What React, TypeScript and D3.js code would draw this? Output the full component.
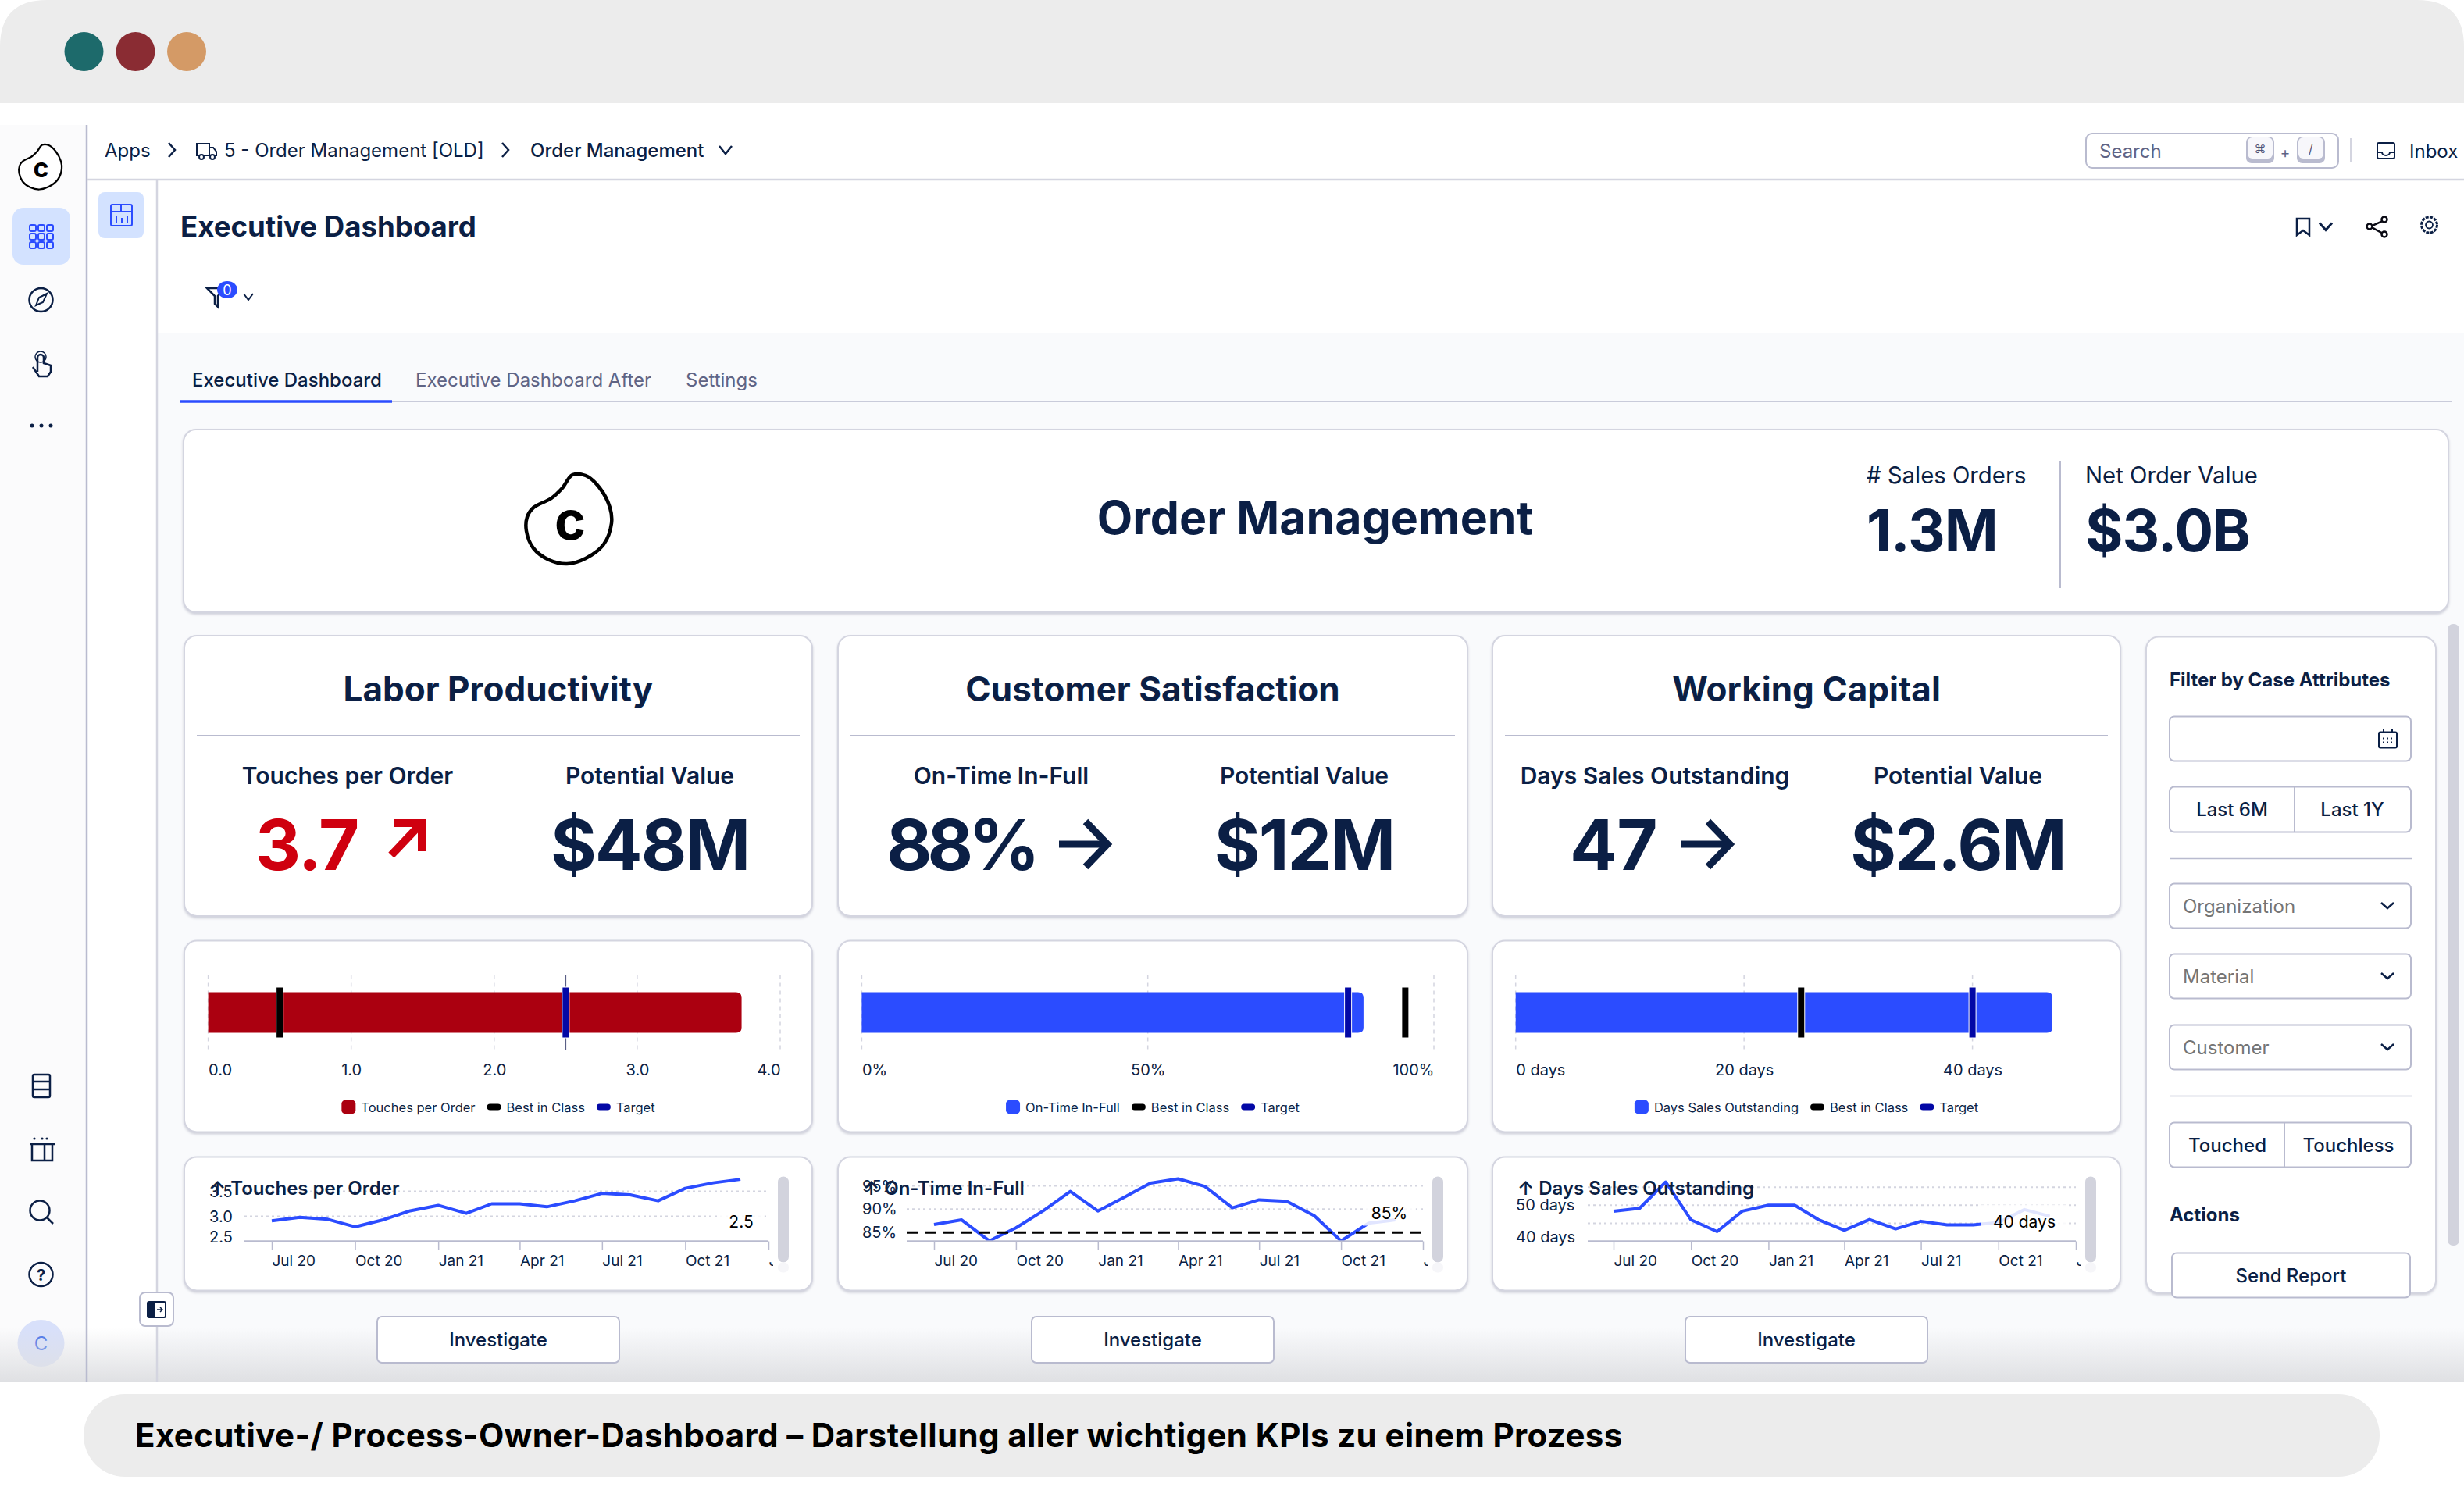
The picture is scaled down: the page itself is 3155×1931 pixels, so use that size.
import * as React from "react";
import * as d3 from "d3";

const months = [
  "2020-07", "2020-08", "2020-09", "2020-10", "2020-11", "2020-12",
  "2021-01", "2021-02", "2021-03", "2021-04", "2021-05", "2021-06",
  "2021-07", "2021-08", "2021-09", "2021-10", "2021-11", "2021-12"
];
const monthTicks = ["2020-07", "2020-10", "2021-01", "2021-04", "2021-07", "2021-10", "2022-01"];

const touchesTrend = [2.91, 2.98, 2.94, 2.79, 2.93, 3.11, 3.22, 3.06, 3.25, 3.25, 3.19, 3.31, 3.46, 3.43, 3.31, 3.56, 3.67, 3.74];
const onTimeTrend = [86.7, 87.7, 83.2, 86, 89.7, 93.8, 89.6, 92.7, 95.6, 96.5, 94.9, 90.3, 92, 91.7, 88.6, 83.2, 87, 87.7];
const daysTrend = [46.7, 48.3, 62.9, 41.9, 35.4, 46.7, 50, 50, 42.1, 36.1, 42.1, 36.9, 41.1, 39.1, 39.1, 40.4, 47.6, 43.9];

const kpiTitles = ["Labor Productivity", "Customer Satisfaction", "Working Capital"];
const kpiLabels = ["Touches per Order", "On-Time In-Full", "Days Sales Outstanding"];
const kpiValues = ["3.7", "88%", "47"];
const potentialValues = ["$48M", "$12M", "$2.6M"];

const bulletValues = [3.73, 87.7, 47];
const bestInClass = [0.5, 95, 25];
const targets = [2.5, 85, 40];
const bulletTicks = [[0, 1, 2, 3, 4], [0, 50, 100], [0, 20, 40]];

const navy = "#0b1f45";
const blue = "#2b4cff";
const red = "#ab0010";
const targetBlue = "#0308a6";
const line = "#b9bbcf";
const lineSoft = "#d4d5e0";
const font = "Inter, sans-serif";

const cards = [
  { x0: 236, x1: 1040 },
  { x0: 1073, x1: 1879 },
  { x0: 1911, x1: 2715 }
];

// outline of the company mark
const logoOutline: [number, number][] = [
  [4, -57], [21, -56], [39, -40], [52, -15], [54, 5], [44, 32], [21, 50], [-3, 57],
  [-26, 52], [-46, 37], [-55, 15], [-54, -3], [-46, -15], [-23, -27], [-9, -40]
];

const T = (p: any) => {
  const { x, y, size = 24, weight = 400, fill = navy, anchor = "start", children, ...rest } = p;
  return (
    <text x={x} y={y} fontSize={size} fontWeight={weight} fill={fill} textAnchor={anchor} dominantBaseline="central" fontFamily={font} {...rest}>
      {children}
    </text>
  );
};

const Chevron = ({ x, y, w = 8, h = 5, sw = 2.5, color = navy }: any) => (
  <polyline points={`${x - w},${y - h} ${x},${y + h} ${x + w},${y - h}`} fill="none" stroke={color} strokeWidth={sw} />
);

const ChevronRight = ({ x, y }: any) => (
  <polyline points={`${x - 4},${y - 9} ${x + 4},${y} ${x - 4},${y + 9}`} fill="none" stroke={navy} strokeWidth={2.5} />
);

const Card = ({ x0, x1, y0, y1, r = 16 }: any) => (
  <rect x={x0} y={y0 + 1} width={x1 - x0} height={y1 - y0} rx={r} fill="#fff" stroke={lineSoft} strokeWidth={2}
    style={{ filter: "drop-shadow(0 2px 1.5px #cfd0da)" }} />
);

const logoPath = d3.line().curve(d3.curveCatmullRomClosed)(logoOutline) as string;

const Logo = ({ x, y, k = 1 }: any) => (
  <g transform={`translate(${x},${y}) scale(${k})`}>
    <path d={logoPath} fill="#fff" stroke="#000" strokeWidth={4.5} />
    <text x={1} y={1} fontSize={68} fontWeight={700} fontFamily={font} fill="#000" stroke="none" textAnchor="middle" dominantBaseline="central">c</text>
  </g>
);

const Button = ({ x0, x1, y0, y1, label, fill = navy, left = false, weight = 500 }: any) => (
  <g>
    <rect x={x0} y={y0} width={x1 - x0} height={y1 - y0} rx={6} fill="#fff" stroke={line} strokeWidth={2} />
    {label && <T x={left ? x0 + 17 : (x0 + x1) / 2} y={(y0 + y1) / 2} anchor={left ? "start" : "middle"} fill={fill} weight={weight}>{label}</T>}
  </g>
);

const SplitButton = ({ y0, y1, split, labels, centers }: any) => (
  <g>
    <Button x0={2778} x1={3087} y0={y0} y1={y1} />
    <line x1={split} x2={split} y1={y0} y2={y1} stroke={line} strokeWidth={2} />
    {labels.map((d: string, i: number) => (
      <T key={d} x={centers[i]} y={(y0 + y1) / 2} anchor="middle" weight={500}>{d}</T>
    ))}
  </g>
);

const Legend = ({ label, color, cx }: any) => {
  const ref = React.useRef<SVGGElement>(null);
  React.useEffect(() => {
    const items = [
      { name: label, color, h: 18 },
      { name: "Best in Class", color: "#000", h: 8 },
      { name: "Target", color: targetBlue, h: 8 }
    ];
    const g = d3.select(ref.current);
    g.selectAll("*").remove();
    let x = 0;
    items.forEach(d => {
      const h = d.h;
      g.append("rect").attr("x", x).attr("y", 1416 - h / 2).attr("width", 18).attr("height", h).attr("rx", h > 10 ? 5 : 4).attr("fill", d.color);
      const t = g.append("text").attr("x", x + 25).attr("y", 1416).attr("dominant-baseline", "central")
        .attr("font-size", 16.5).attr("font-family", font).attr("fill", navy).text(d.name);
      x += 25 + (t.node() as SVGTextElement).getComputedTextLength() + 15;
    });
    g.attr("transform", `translate(${cx - (x - 15) / 2},0)`);
  }, []);
  return <g ref={ref} />;
};

const BulletChart = ({ card, domain, range, ticks, value, best, target, color, label, format, lastAnchor, guide }: any) => {
  const axisRef = React.useRef<SVGGElement>(null);
  const x = d3.scaleLinear().domain(domain).range(range);
  const yTop = 1269;
  const yBottom = 1321;
  React.useEffect(() => {
    const g = d3.select(axisRef.current);
    g.attr("transform", "translate(0,1343)").call(d3.axisBottom(x).tickValues(ticks).tickFormat(format).tickSize(0) as any);
    g.select(".domain").remove();
    g.attr("font-family", font).attr("font-size", 20);
    g.selectAll("text").attr("fill", navy).attr("y", 25).attr("dy", 0).attr("dominant-baseline", "central")
      .attr("text-anchor", (_d: any, i: number) => (i === 0 ? "start" : i === ticks.length - 1 ? lastAnchor : "middle"));
  }, []);
  const xEnd = x(value);
  const barPath = `M${x(0)} ${yTop}H${xEnd - 7}Q${xEnd} ${yTop} ${xEnd} ${yTop + 7}V${yBottom - 7}Q${xEnd} ${yBottom} ${xEnd - 7} ${yBottom}H${x(0)}Z`;
  return (
    <g>
      <Card x0={card.x0} x1={card.x1} y0={1202} y1={1447} />
      {ticks.map((t: number) => (
        <line key={t} x1={x(t)} x2={x(t)} y1={1247} y2={1343} stroke={lineSoft} strokeWidth={1.5} strokeDasharray="5 5" />
      ))}
      {guide && <line x1={x(target)} x2={x(target)} y1={1247} y2={1343} stroke="#5a5f86" strokeWidth={1.5} />}
      <path d={barPath} fill={color} />
      <rect x={x(best) - 4} y={1263} width={8} height={64} fill="#000" stroke="#fff" strokeWidth={2} paintOrder="stroke" />
      <rect x={x(target) - 4} y={1263} width={8} height={64} fill={targetBlue} stroke="#fff" strokeWidth={2} paintOrder="stroke" />
      <g ref={axisRef} />
      <Legend label={label} color={color} cx={(card.x0 + card.x1) / 2} />
    </g>
  );
};

const parseMonth = d3.timeParse("%Y-%m") as (s: string) => Date;

const TrendChart = ({ id, card, title, titleX, values, axisX, tickX0, tickX1, yDomain, yRange, grid, yLabels, yLabelX, note, noteX, noteY, noteW, refValue, barX }: any) => {
  const axisRef = React.useRef<SVGGElement>(null);
  const baseline = 1588;
  const x = d3.scaleTime().domain([parseMonth("2020-07"), parseMonth("2022-01")]).range([tickX0, tickX1]);
  const y = d3.scaleLinear().domain(yDomain).range(yRange);
  const path = d3.line<number>().x((_d, i) => x(parseMonth(months[i]))).y(d => y(d))(values) as string;
  React.useEffect(() => {
    const g = d3.select(axisRef.current);
    const axis = d3.axisBottom(x).tickValues(monthTicks.map(parseMonth)).tickFormat(d3.timeFormat("%b %y") as any).tickSize(11);
    g.attr("transform", `translate(0,${baseline})`).call(axis as any);
    g.select(".domain").remove();
    g.attr("font-family", font).attr("font-size", 19);
    g.selectAll("line").attr("stroke", line).attr("stroke-width", 1.5);
    g.selectAll("text").attr("fill", navy).attr("y", 25).attr("dy", 0).attr("text-anchor", "start").attr("dominant-baseline", "central");
  }, []);
  return (
    <g>
      <Card x0={card.x0} x1={card.x1} y0={1479} y1={1650} />
      <clipPath id={id}>
        <rect x={card.x0} y={1480} width={tickX1 + 6 - card.x0} height={171} />
      </clipPath>
      {grid.map((g: number) => (
        <line key={g} x1={axisX} x2={tickX1} y1={y(g)} y2={y(g)} stroke={lineSoft} strokeWidth={2} strokeDasharray="3 4" />
      ))}
      <path d={path} fill="none" stroke={blue} strokeWidth={4} strokeLinejoin="round" />
      <rect x={noteX - noteW / 2} y={noteY - 22} width={noteW} height={38} fill="#fff" opacity={0.86} />
      {refValue !== undefined && (
        <line x1={axisX} x2={tickX1} y1={y(refValue)} y2={y(refValue)} stroke="#000" strokeWidth={3} strokeDasharray="15 8" />
      )}
      <line x1={axisX} x2={tickX1} y1={baseline} y2={baseline} stroke={line} strokeWidth={2.5} />
      <g clipPath={`url(#${id})`}>
        <g ref={axisRef} />
      </g>
      {yLabels.map((d: any) => (
        <T key={d[1]} x={yLabelX} y={Math.min(y(d[0]), baseline - 6)} size={20}>{d[1]}</T>
      ))}
      <T x={noteX} y={noteY} size={21} anchor="middle" fill="#000">{note}</T>
      <T x={titleX} y={1520} size={24} weight={600}>{title}</T>
      <rect x={barX} y={1505} width={14} height={110} rx={7} fill="#d2d3dd" />
      <rect x={barX} y={1615} width={14} height={13} rx={6} fill="#f6f6f9" />
    </g>
  );
};

const KpiCard = ({ i }: any) => {
  const c = cards[i];
  const cx = (c.x0 + c.x1) / 2;
  const pot = cx + 194;
  const left = [445, 1282, 2119][i];
  const valueX = [327, 1135, 2010][i];
  const spacing = [-1.5, -6, -0.5][i];
  const isBad = i === 0;
  const arrowX = [0, 1356, 2153][i];
  return (
    <g>
      <Card x0={c.x0} x1={c.x1} y0={813} y1={1172} />
      <T x={cx} y={882} size={44} weight={700} anchor="middle">{kpiTitles[i]}</T>
      <line x1={c.x0 + 16} x2={c.x1 - 16} y1={942} y2={942} stroke={line} strokeWidth={2} />
      <T x={left} y={993} size={30} weight={600} anchor="middle">{kpiLabels[i]}</T>
      <T x={pot} y={993} size={30} weight={600} anchor="middle">Potential Value</T>
      <T x={valueX} y={1081} size={90} weight={700} fill={isBad ? "#cf000f" : navy} letterSpacing={spacing}>{kpiValues[i]}</T>
      {isBad ? (
        <g fill="none" stroke="#cf000f" strokeWidth={10}>
          <polyline points="505,1054 540,1054 540,1090" />
          <line x1={537} y1={1057} x2={501} y2={1095} />
        </g>
      ) : (
        <g fill="none" stroke={navy} strokeWidth={9}>
          <line x1={arrowX} x2={arrowX + 60} y1={1081} y2={1081} />
          <polyline points={`${arrowX + 34},${1052} ${arrowX + 62},${1081} ${arrowX + 34},${1110}`} />
        </g>
      )}
      <T x={pot} y={1081} size={90} weight={700} anchor="middle" letterSpacing={-2}>{potentialValues[i]}</T>
    </g>
  );
};

const Sidebar = () => (
  <g fill="none" stroke={navy} strokeWidth={2.5}>
    <Logo x={52} y={214} k={0.5} />
    <rect x={16} y={266} width={74} height={73} rx={14} fill="#d3e2ff" stroke="none" />
    {[0, 1, 2].map(r => [0, 1, 2].map(c => (
      <rect key={`${r}${c}`} x={38 + c * 11} y={288 + r * 11} width={8} height={8} rx={2} stroke={blue} strokeWidth={2} />
    )))}
    <circle cx={52.5} cy={384} r={15} />
    <path d="M46 391 L50 381 L60 376 L55 387 Z" strokeWidth={2} />
    <path d="M48 476 V458 a4 4 0 0 1 8 0 V465 l9 3 V476 L61 482 H50 L42 470" strokeWidth={2.5} />
    <circle cx={52} cy={457} r={7} strokeWidth={1.5} />
    {[-12, 0, 12].map(d => <circle key={d} cx={53 + d} cy={545} r={2.5} fill={navy} stroke="none" />)}
    <rect x={42} y={1376} width={22} height={29} rx={2} />
    <line x1={42} x2={64} y1={1385} y2={1385} />
    <line x1={42} x2={64} y1={1395} y2={1395} />
    <path d="M41 1465 H67 V1486 H41 Z M38 1465 H70 M57 1465 V1486" />
    {[44, 54, 60].map(d => <circle key={d} cx={d} cy={1458} r={1.6} fill={navy} stroke="none" />)}
    <circle cx={51} cy={1550} r={12.5} />
    <line x1={60} y1={1559} x2={68} y2={1567} />
    <circle cx={52.5} cy={1632} r={15} />
    <text x={52.5} y={1633} fontSize={20} fontWeight={700} fontFamily={font} fill={navy} stroke="none" textAnchor="middle" dominantBaseline="central">?</text>
    <circle cx={52.5} cy={1720} r={30} fill="#d8e0fa" stroke="none" />
    <text x={52.5} y={1720} fontSize={24} fontFamily={font} fill="#3d6ae8" stroke="none" textAnchor="middle" dominantBaseline="central">C</text>
  </g>
);

const TopBar = () => (
  <g>
    <T x={134} y={192}>Apps</T>
    <ChevronRight x={220} y={192} />
    <g fill="none" stroke={navy} strokeWidth={2}>
      <path d="M252 184 H268 V199 H252 Z M268 189 H273 L277 194 V199 H268" />
      <circle cx={258} cy={201} r={3} fill="#fff" />
      <circle cx={272} cy={201} r={3} fill="#fff" />
    </g>
    <T x={287} y={192}>5 - Order Management [OLD]</T>
    <ChevronRight x={647} y={192} />
    <T x={679} y={192} weight={500}>Order Management</T>
    <Chevron x={929} y={192} />
    <rect x={2671} y={171} width={323} height={44} rx={8} fill="#fff" stroke={line} strokeWidth={2} />
    <T x={2688} y={193} fill="#5f6485">Search</T>
    <rect x={2876} y={175} width={36} height={34} rx={7} fill={line} />
    <rect x={2878} y={176} width={32} height={27} rx={6} fill="#f7f7fb" />
    <T x={2894} y={190} size={15} anchor="middle" fill="#4f5478">⌘</T>
    <T x={2926} y={195} size={19} anchor="middle" fill="#5f6485">+</T>
    <rect x={2941} y={175} width={36} height={34} rx={7} fill={line} />
    <rect x={2943} y={176} width={32} height={27} rx={6} fill="#f7f7fb" />
    <T x={2959} y={190} size={16} anchor="middle" fill="#4f5478">/</T>
    <line x1={3010} x2={3010} y1={177} y2={208} stroke={lineSoft} strokeWidth={2} />
    <path d="M3046 183 H3064 a2 2 0 0 1 2 2 V201 a2 2 0 0 1 -2 2 H3046 a2 2 0 0 1 -2 -2 V185 a2 2 0 0 1 2 -2 Z M3044 195 H3050 a5 4 0 0 0 10 0 H3066" fill="none" stroke={navy} strokeWidth={2} />
    <T x={3085} y={193}>Inbox</T>
  </g>
);

const TitleBar = () => (
  <g>
    <T x={231} y={290} size={36.6} weight={700}>Executive Dashboard</T>
    <path d="M265 369 L287 369 L279 379 V393 L275 389 V379 Z" fill="none" stroke={navy} strokeWidth={2.5} />
    <ellipse cx={291} cy={371} rx={13} ry={11} fill={blue} />
    <T x={291} y={371} size={18} anchor="middle" fill="#fff">0</T>
    <Chevron x={318} y={380} w={6} h={4} sw={2} />
    <path d="M2941 280 H2957 V301 L2949 295 L2941 301 Z" fill="none" stroke={navy} strokeWidth={2.5} />
    <Chevron x={2978} y={290} sw={3} h={4.5} />
    <g fill="#fff" stroke="#0a0a14" strokeWidth={2.5}>
      <polyline points="3053,282 3035,290 3053,300" fill="none" />
      <circle cx={3053} cy={281} r={3.5} />
      <circle cx={3034} cy={290} r={3.5} />
      <circle cx={3053} cy={300} r={3.5} />
    </g>
    <circle cx={3110.5} cy={288} r={4.5} fill="none" stroke={navy} strokeWidth={1.8} />
    <circle cx={3110.5} cy={288} r={10} fill="none" stroke={navy} strokeWidth={3} strokeDasharray="4 1.25" />
    <rect x={126} y={246} width={58} height={59} rx={8} fill="#d3e2ff" />
    <g fill="none" stroke={blue} strokeWidth={2}>
      <rect x={142} y={262} width={27} height={27} rx={2} />
      <path d="M142 271 H169 M155 262 V271 M149 276 V285 M156 279 V285 M163 276 V285" />
    </g>
  </g>
);

const Tabs = () => (
  <g>
    <T x={246} y={486} weight={500}>Executive Dashboard</T>
    <T x={532} y={486} fill="#5f6485">Executive Dashboard After</T>
    <T x={878} y={486} fill="#5f6485">Settings</T>
    <line x1={502} x2={3140} y1={514} y2={514} stroke={line} strokeWidth={1.5} />
    <line x1={231} x2={502} y1={514} y2={514} stroke={blue} strokeWidth={3.5} />
  </g>
);

const Summary = () => (
  <g>
    <Card x0={235} x1={3135} y0={549} y1={783} />
    <Logo x={729} y={665} />
    <T x={1684} y={662} size={59} weight={700} anchor="middle">Order Management</T>
    <T x={2390} y={608} size={29.3}># Sales Orders</T>
    <T x={2390} y={679} size={74} weight={700} letterSpacing={-1}>1.3M</T>
    <line x1={2638} x2={2638} y1={590} y2={753} stroke={line} strokeWidth={2} />
    <T x={2670} y={608} size={29.3}>Net Order Value</T>
    <T x={2670} y={679} size={74} weight={700} letterSpacing={-1}>$3.0B</T>
  </g>
);

const FilterPanel = () => (
  <g>
    <Card x0={2748} x1={3119} y0={813} y1={1653} />
    <T x={2778} y={869} weight={700}>Filter by Case Attributes</T>
    <Button x0={2778} x1={3087} y0={916} y1={973} />
    <g fill="none" stroke={navy} strokeWidth={2}>
      <rect x={3046} y={936} width={23} height={20} rx={2} />
      <path d="M3052 932 V937 M3063 932 V937" />
      <path d="M3051 944 H3065 M3051 949 H3065" strokeDasharray="2 3" />
    </g>
    <SplitButton y0={1006} y1={1064} split={2938} labels={["Last 6M", "Last 1Y"]} centers={[2858, 3012]} />
    <line x1={2778} x2={3088} y1={1098} y2={1098} stroke={line} strokeWidth={1.5} />
    {["Organization", "Material", "Customer"].map((d, i) => {
      const y0 = [1130, 1220, 1311][i];
      return (
        <g key={d}>
          <Button x0={2778} x1={3087} y0={y0} y1={y0 + 57} label={d} left fill="#757575" weight={400} />
          <Chevron x={3057} y={y0 + 28} w={8} h={3.5} />
        </g>
      );
    })}
    <line x1={2778} x2={3088} y1={1402} y2={1402} stroke={line} strokeWidth={1.5} />
    <SplitButton y0={1436} y1={1493} split={2925} labels={["Touched", "Touchless"]} centers={[2852, 3007]} />
    <T x={2778} y={1554} weight={700}>Actions</T>
    <Button x0={2781} x1={3086} y0={1603} y1={1660} label="Send Report" />
  </g>
);

export default function App() {
  return (
    <svg width={3155} height={1931} style={{ position: "fixed", left: 0, top: 0, display: "block", background: "#fff" }}>
      <defs>
        <linearGradient id="fade" x1="0" x2="0" y1="0" y2="1">
          <stop offset="0" stopColor="#dfe0e3" stopOpacity={0} />
          <stop offset="1" stopColor="#dfe0e3" stopOpacity={1} />
        </linearGradient>
      </defs>
      <path d="M0 132 V60 Q0 0 60 0 H3095 Q3155 0 3155 60 V132 Z" fill="#ececec" />
      <circle cx={107.5} cy={66} r={25} fill="#1d6a6b" />
      <circle cx={173.5} cy={66} r={25} fill="#8a2c33" />
      <circle cx={239} cy={66} r={25} fill="#d49a66" />

      <rect x={0} y={160} width={111} height={1610} fill="#fbfbfc" />
      <rect x={202} y={427} width={2953} height={1343} fill="#f9fafc" />
      <Sidebar />
      <TopBar />
      <TitleBar />
      <Tabs />
      <Summary />
      {cards.map((_c, i) => <KpiCard key={i} i={i} />)}

      <g transform="translate(0,1.5)">
        <BulletChart card={cards[0]} domain={[0, 4]} range={[266.6, 999]} ticks={bulletTicks[0]} value={bulletValues[0]} best={bestInClass[0]} target={targets[0]}
          color={red} label={kpiLabels[0]} format={d3.format(".1f")} lastAnchor="end" guide />
        <BulletChart card={cards[1]} domain={[0, 100]} range={[1103.4, 1836]} ticks={bulletTicks[1]} value={bulletValues[1]} best={bestInClass[1]} target={targets[1]}
          color={blue} label={kpiLabels[1]} format={(d: number) => `${d}%`} lastAnchor="end" />
        <BulletChart card={cards[2]} domain={[0, 40]} range={[1940.7, 2525.6]} ticks={bulletTicks[2]} value={bulletValues[2]} best={bestInClass[2]} target={targets[2]}
          color={blue} label={kpiLabels[2]} format={(d: number) => `${d} days`} lastAnchor="middle" />

        <TrendChart id="c0" card={cards[0]} title={`↑ ${kpiLabels[0]}`} titleX={268} values={touchesTrend} axisX={313} tickX0={348} tickX1={984}
          yDomain={[2.5, 3.5]} yRange={[1588, 1524]} grid={[3.5, 3]} yLabels={[[3.5, "3.5"], [3, "3.0"], [2.5, "2.5"]]} yLabelX={268}
          note="2.5" noteX={949} noteY={1563} noteW={60} barX={996} />
        <TrendChart id="c1" card={cards[1]} title={`↑ ${kpiLabels[1]}`} titleX={1105} values={onTimeTrend} axisX={1161} tickX0={1196} tickX1={1822}
          yDomain={[85, 95]} yRange={[1576.7, 1517]} grid={[95, 90]} yLabels={[[95, "95%"], [90, "90%"], [85, "85%"]]} yLabelX={1104}
          note="85%" noteX={1779} noteY={1552} noteW={68} refValue={85} barX={1834} />
        <TrendChart id="c2" card={cards[2]} title={`↑ ${kpiLabels[2]}`} titleX={1943} values={daysTrend} axisX={2033} tickX0={2066} tickX1={2658}
          yDomain={[30, 60]} yRange={[1588, 1518.7]} grid={[60, 50, 40]} yLabels={[[50, "50 days"], [30, "40 days"]]} yLabelX={1941}
          note="40 days" noteX={2592} noteY={1563} noteW={112} barX={2670} />
        <FilterPanel />
      </g>
      <rect x={3134} y={799} width={15} height={796} rx={7} fill="#d2d3dd" />

      <rect x={0} y={1700} width={3155} height={70} fill="url(#fade)" />
      <line x1={111} x2={111} y1={160} y2={1770} stroke={line} strokeWidth={2.5} />
      <line x1={201} x2={201} y1={230} y2={1770} stroke={lineSoft} strokeWidth={2.5} />
      <line x1={111} x2={3155} y1={230} y2={230} stroke={lineSoft} strokeWidth={2.5} />

      <rect x={179} y={1655} width={43} height={43} rx={7} fill="#fff" stroke={line} strokeWidth={2} />
      <rect x={189} y={1667} width={23} height={20} rx={2} fill="#fff" stroke={navy} strokeWidth={2} />
      <rect x={189} y={1667} width={10} height={20} fill={navy} />
      <path d="M201 1677 H208 M205 1674 L208 1677 L205 1680" fill="none" stroke={navy} strokeWidth={1.5} />

      {cards.map(c => {
        const cx = (c.x0 + c.x1) / 2;
        return <Button key={c.x0} x0={cx - 155} x1={cx + 155} y0={1686} y1={1745} label="Investigate" />;
      })}

      <rect x={107} y={1785} width={2940} height={106} rx={53} fill="#ececec" />
      <T x={173} y={1837} size={42} weight={700} fill="#000" letterSpacing={0.37}>Executive-/ Process-Owner-Dashboard – Darstellung aller wichtigen KPIs zu einem Prozess</T>
    </svg>
  );
}
